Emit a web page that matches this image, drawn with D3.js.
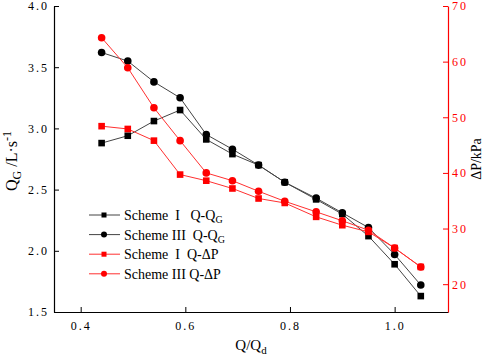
<!DOCTYPE html>
<html>
<head>
<meta charset="utf-8">
<script src="https://cdn.jsdelivr.net/npm/d3@7"></script>
<style>
  body { margin: 0; background: #fff; }
  svg { display: block; }
  .tick text { font-family: "Liberation Serif", serif; font-size: 12px; letter-spacing: 2px; }
</style>
</head>
<body>
<svg id="chart"></svg>
<script>
// data
const ratio = [0.44, 0.49, 0.54, 0.59, 0.64, 0.69, 0.74, 0.79, 0.85, 0.90, 0.95, 1.00, 1.05];
const qgScheme1 = [2.88, 2.94, 3.06, 3.15, 2.91, 2.79, 2.70, 2.56, 2.42, 2.30, 2.12, 1.89, 1.63];
const qgScheme3 = [3.62, 3.55, 3.38, 3.25, 2.95, 2.83, 2.70, 2.56, 2.43, 2.31, 2.19, 1.97, 1.72];
const dpScheme1 = [48.4, 47.9, 45.8, 39.7, 38.6, 37.2, 35.4, 34.6, 32.1, 30.6, 29.4, 26.5, 23.1];
const dpScheme3 = [64.3, 58.9, 51.7, 45.8, 40.0, 38.6, 36.7, 34.9, 33.0, 31.4, 29.7, 26.5, 23.1];
const xTicks = [0.4, 0.6, 0.8, 1.0];
const leftTicks = [1.5, 2.0, 2.5, 3.0, 3.5, 4.0];
const rightTicks = [20, 30, 40, 50, 60, 70];

const width = 484, height = 356;
const margin = { top: 6, right: 36, bottom: 44, left: 54 };
const innerW = width - margin.left - margin.right;
const innerH = height - margin.top - margin.bottom;

const svg = d3.select("#chart").attr("width", width).attr("height", height);
const g = svg.append("g").attr("transform", `translate(${margin.left},${margin.top})`);

const x = d3.scaleLinear().domain([0.349, 1.102]).range([0, innerW]);
const yL = d3.scaleLinear().domain([1.5, 4.0]).range([innerH, 0]);
const yR = d3.scaleLinear().domain([15, 70]).range([innerH, 0]);

// axes
g.append("g")
  .attr("transform", `translate(0,${innerH})`)
  .call(d3.axisBottom(x).tickValues(xTicks).tickFormat(d3.format(".1f")).tickSize(-5).tickPadding(9).tickSizeOuter(0))
  .call(a => a.selectAll("line,path").attr("stroke", "#000"));

g.append("g")
  .call(d3.axisLeft(yL).tickValues(leftTicks).tickFormat(d3.format(".1f")).tickSize(-5).tickPadding(5).tickSizeOuter(0))
  .call(a => a.selectAll("line,path").attr("stroke", "#000"));

g.append("g")
  .attr("transform", `translate(${innerW},0)`)
  .call(d3.axisRight(yR).tickValues(rightTicks).tickSize(-5).tickPadding(4).tickSizeOuter(0))
  .call(a => a.selectAll("line,path").attr("stroke", "#ff0000"))
  .call(a => a.selectAll("text").attr("fill", "#ff0000"));

g.selectAll(".domain").attr("stroke-width", 1.2);

// axis titles
const serif = "'Liberation Serif', 'Times New Roman', serif";
const xt = g.append("text")
  .attr("x", innerW / 2).attr("y", innerH + 38)
  .attr("text-anchor", "middle")
  .style("font-family", serif).style("font-size", "15px");
xt.append("tspan").text("Q/Q");
xt.append("tspan").attr("dy", 4).style("font-size", "11px").text("d");

const yt = g.append("text")
  .attr("transform", `translate(${-37},${innerH / 2 + 2}) rotate(-90)`)
  .attr("text-anchor", "middle")
  .style("font-family", serif).style("font-size", "16px");
yt.append("tspan").text("Q");
yt.append("tspan").attr("dy", 4).style("font-size", "12px").text("G");
yt.append("tspan").attr("dy", -4).text("\u00a0/L·s");
yt.append("tspan").attr("dy", -6).style("font-size", "12px").text("-1");

g.append("text")
  .attr("transform", `translate(${innerW + 33},${innerH / 2}) rotate(-90)`)
  .attr("text-anchor", "middle")
  .style("font-family", serif).style("font-size", "14px")
  .text("ΔP/kPa");

// series
const series = [
  { vals: qgScheme3, y: yL, color: "#000", line: "#444", shape: "circle" },
  { vals: qgScheme1, y: yL, color: "#000", line: "#444", shape: "square" },
  { vals: dpScheme1, y: yR, color: "#ff0000", line: "#ff3030", shape: "square" },
  { vals: dpScheme3, y: yR, color: "#ff0000", line: "#ff3030", shape: "circle" }
];

series.forEach(s => {
  const pts = ratio.map((r, i) => [r, s.vals[i]]);
  g.append("path")
    .datum(pts)
    .attr("fill", "none")
    .attr("stroke", s.line)
    .attr("stroke-width", 1)
    .attr("d", d3.line().x(d => x(d[0])).y(d => s.y(d[1])));
  if (s.shape === "circle") {
    g.selectAll(null).data(pts).enter().append("circle")
      .attr("cx", d => x(d[0])).attr("cy", d => s.y(d[1]))
      .attr("r", 3.8).attr("fill", s.color);
  } else {
    g.selectAll(null).data(pts).enter().append("rect")
      .attr("x", d => x(d[0]) - 3.3).attr("y", d => s.y(d[1]) - 3.3)
      .attr("width", 6.6).attr("height", 6.6).attr("fill", s.color);
  }
});

// legend (non-breaking spaces keep the wide gaps)
const sp = n => "\u00a0".repeat(n);
const legendItems = [
  { label: [`Scheme${sp(2)}I${sp(3)}Q-Q`, "G"], color: "#000", line: "#444", shape: "square" },
  { label: [`Scheme III${sp(2)}Q-Q`, "G"], color: "#000", line: "#444", shape: "circle" },
  { label: [`Scheme${sp(2)}I${sp(2)}Q-ΔP`, ""], color: "#ff0000", line: "#ff3030", shape: "square" },
  { label: ["Scheme III Q-ΔP", ""], color: "#ff0000", line: "#ff3030", shape: "circle" }
];
const legend = svg.append("g").attr("transform", "translate(89,215)");
legendItems.forEach((d, i) => {
  const row = legend.append("g").attr("transform", `translate(0,${i * 19.6})`);
  row.append("line").attr("x1", 0).attr("x2", 31).attr("y1", 0).attr("y2", 0)
    .attr("stroke", d.line).attr("stroke-width", 1);
  if (d.shape === "square") {
    row.append("rect").attr("x", 12.5).attr("y", -2.5).attr("width", 5).attr("height", 5).attr("fill", d.color);
  } else {
    row.append("circle").attr("cx", 15).attr("cy", 0).attr("r", 3).attr("fill", d.color);
  }
  const t = row.append("text").attr("x", 35).attr("y", 5)
    .style("font-family", serif).style("font-size", "14px");
  t.append("tspan").text(d.label[0]);
  if (d.label[1]) t.append("tspan").attr("dy", 3).style("font-size", "10px").text(d.label[1]);
});
</script>
</body>
</html>
